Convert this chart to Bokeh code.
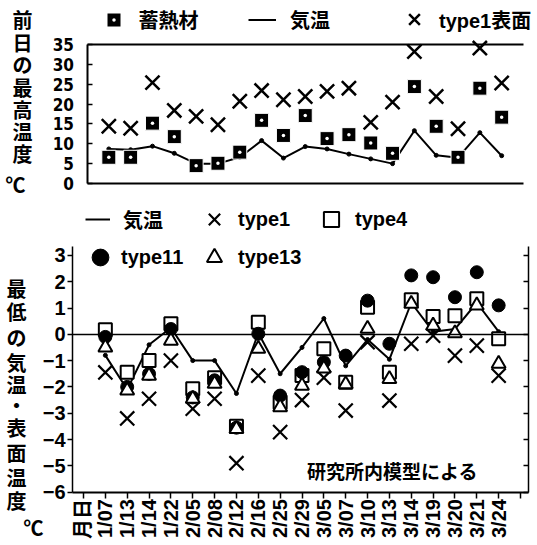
import math
from bokeh.plotting import figure
from bokeh.layouts import column
from bokeh.models import (ColumnDataSource, Range1d, LinearAxis, FixedTicker,
                          Legend, LegendItem, Label)
from bokeh.core.properties import value
from bokeh.embed import file_html
from bokeh.resources import INLINE

# ---------------------------------------------------------------- data
dates = ["1/07", "1/13", "1/14", "1/22", "2/05", "2/08", "2/12", "2/16", "2/25",
         "2/29", "3/05", "3/07", "3/10", "3/13", "3/14", "3/19", "3/20", "3/21", "3/24"]
axis_labels = ["月日"] + dates

# previous-day maximum (°C)
max_air = [8.7, 8.5, 9.4, 7.6, 5.0, 5.0, 6.6, 10.8, 6.4, 9.3,
           8.7, 7.4, 6.2, 5.0, 13.3, 7.1, 6.5, 12.8, 7.0]
max_storage = [6.6, 6.6, 15.2, 11.8, 4.5, 5.1, 7.9, 15.9, 12.1, 17.1,
               11.3, 12.3, 10.2, 7.6, 24.4, 14.4, 6.6, 24.0, 16.7]
max_type1_surface = [14.4, 13.9, 25.4, 18.4, 16.9, 14.8, 20.7, 23.4, 21.1, 21.9,
                     23.2, 24.0, 15.4, 20.5, 33.2, 21.9, 13.8, 34.1, 25.3]

# minimum air / surface temperature (°C)
min_air = [-0.8, -2.1, -0.4, 0.25, -1.0, -1.0, -2.25, 0.05, -1.5, -0.5,
           0.6, -1.2, -0.2, -0.95, 1.2, 0.1, 0.2, 1.2, 0.1]
min_type1 = [-1.45, -3.2, -2.45, -1.0, -2.83, -2.45, -4.9, -1.57, -3.72, -2.5,
             -1.65, -2.9, -0.3, -2.52, -0.36, -0.05, -0.81, -0.43, -1.57]
min_type4 = [0.17, -1.44, -1.0, 0.4, -2.07, -1.65, -3.5, 0.46, -2.58, -1.57,
             -0.55, -1.82, 1.03, -1.44, 1.31, 0.68, 0.71, 1.35, -0.17]
min_type11 = [-0.1, -2.0, -1.5, 0.2, -2.4, -1.75, -3.55, 0.02, -2.33, -1.44,
              -1.06, -0.81, 1.28, -0.36, 2.24, 2.17, 1.41, 2.36, 1.1]
min_type13 = [-0.5, -2.14, -1.57, -0.24, -2.45, -1.88, -3.6, -0.55, -2.77, -1.95,
              -1.3, -1.9, 0.21, -1.7, 1.16, 0.33, 0.04, 1.1, -1.12]

top_ticks = [0, 5, 10, 15, 20, 25, 30, 35]
bottom_ticks = [-6, -5, -4, -3, -2, -1, 0, 1, 2, 3]

title_top = ["前", "日", "の", "最", "高", "温", "度", "℃"]
title_bottom = ["最", "低", "の", "気", "温", "・", "表", "面", "温", "度", "℃"]
note_text = "研究所内模型による"

pos = list(range(1, len(dates) + 1))

# ---------------------------------------------------------------- fonts
JP = "'Noto Sans CJK JP'"
MIX = "'Liberation Sans', 'Noto Sans CJK JP'"
NARROW = "'Liberation Sans Narrow', 'DejaVu Sans Condensed', 'Liberation Sans'"

W = 537
TOP_H = 200
BOT_H = 545 - TOP_H


def axis_range(px_a, val_a, px_b, val_b, total_px):
    """Range spanning the whole figure, from two pixel/value anchors."""
    scale = (val_b - val_a) / (px_b - px_a)
    lo = val_a - px_a * scale
    hi = val_a + (total_px - px_a) * scale
    return Range1d(min(lo, hi), max(lo, hi))


def base_figure(height, x_range, y_range):
    f = figure(width=W, height=height, x_range=x_range, y_range=y_range,
               output_backend="svg", toolbar_location=None, min_border=0)
    f.grid.visible = False
    f.outline_line_color = None
    return f


def stacked_title(f, chars, xs, ys, size="20px"):
    """Upright characters stacked top to bottom (pixel positions)."""
    for ch, x, y in zip(chars, xs, ys):
        f.add_layout(Label(x=x, y=f.height - y, x_units="screen", y_units="screen",
                           text=ch, text_align="center", text_baseline="middle",
                           text_font=JP, text_font_size=size, text_font_style="bold",
                           text_color="black"))


def legend_entry(f, label, renderers, left, cy, box_w, box_h, text_x):
    f.add_layout(Legend(
        items=[LegendItem(label=value(label), renderers=renderers)],
        location=(left, f.height - (cy + box_h / 2)),
        orientation="horizontal", padding=0, margin=0, spacing=0,
        glyph_width=box_w, glyph_height=box_h, label_height=box_h,
        label_standoff=int(round(text_x - left - box_w)),
        label_text_font=MIX, label_text_font_size="20px",
        label_text_font_style="bold", label_text_color="black",
        border_line_color=None, background_fill_alpha=0))


def plain_axis(fixed, bounds, width):
    return LinearAxis(fixed_location=fixed, bounds=bounds,
                      ticker=FixedTicker(ticks=[]), axis_line_width=width,
                      major_tick_line_color=None, minor_tick_line_color=None)


# ================================================================ top chart
# index 0 -> x=86.5 px, index 20 -> x=523 px ; 35 -> y=44 px, 0 -> y=183 px
p1 = base_figure(TOP_H,
                 axis_range(86.5, 0, 523, 20, W),
                 axis_range(TOP_H - 183, 0, TOP_H - 44, 35, TOP_H))

p1.xaxis.fixed_location = 0
p1.xaxis.bounds = (0, 20)
p1.xaxis.ticker = FixedTicker(ticks=[])
p1.xaxis.axis_line_width = 2
p1.xaxis.major_tick_line_color = None
p1.xaxis.minor_tick_line_color = None

p1.yaxis.fixed_location = 0
p1.yaxis.bounds = (0, 35)
p1.yaxis.ticker = FixedTicker(ticks=top_ticks)
p1.yaxis.axis_line_width = 2
p1.yaxis.major_tick_in = 5
p1.yaxis.major_tick_out = 0
p1.yaxis.major_tick_line_width = 1.5
p1.yaxis.minor_tick_line_color = None
p1.yaxis.major_label_standoff = 13
p1.yaxis.major_label_text_font = NARROW
p1.yaxis.major_label_text_font_size = "17px"
p1.yaxis.major_label_text_font_style = "bold"
p1.yaxis.major_label_text_color = "black"

p1.add_layout(plain_axis(35, (0, 20), 2), "above")

src_top = ColumnDataSource(dict(x=pos, air=max_air, storage=max_storage,
                                t1=max_type1_surface))
r_air_t = p1.line("x", "air", source=src_top, line_color="black", line_width=2)
p1.scatter("x", "air", source=src_top, marker="circle", size=4, color="black")
r_store = p1.scatter("x", "storage", source=src_top, marker="square_dot", size=14,
                     fill_color="black", line_color="white", line_width=1)
r_t1s = p1.scatter("x", "t1", source=src_top, marker="x", size=20,
                   line_color="black", line_width=2.5)

legend_entry(p1, "蓄熱材", [r_store], 95.5, 19, 35, 35, 139)
legend_entry(p1, "気温", [r_air_t], 248, 19, 28, 35, 290)
legend_entry(p1, "type1表面", [r_t1s], 395, 19, 38, 38, 439)

stacked_title(p1, title_top, [22] * 7 + [15],
              [19, 41.5, 64, 87, 109, 131, 153, 184])

# ================================================================ bottom chart
# index 0 -> x=83 px, spacing 21.85 px ; 0 -> y=133.8 px, 26.3 px per degree
p2 = base_figure(BOT_H,
                 axis_range(83, 0, 83 + 21.85 * 20, 20, W),
                 axis_range(BOT_H - 133.8, 0, BOT_H - 133.8 + 26.3 * 3, 3, BOT_H))

X_LO, X_HI = -0.5, 20.37
Y_LO, Y_HI = -6, 3.33

p2.xaxis.fixed_location = Y_LO
p2.xaxis.bounds = (X_LO, X_HI)
p2.xaxis.ticker = FixedTicker(ticks=list(range(len(axis_labels))), minor_ticks=[20])
p2.xaxis.major_label_overrides = {i: t for i, t in enumerate(axis_labels)}
p2.xaxis.major_label_orientation = math.pi / 2
p2.xaxis.axis_line_width = 2
p2.xaxis.major_tick_in = 0
p2.xaxis.major_tick_out = 6
p2.xaxis.major_tick_line_width = 1.5
p2.xaxis.minor_tick_in = 0
p2.xaxis.minor_tick_out = 6
p2.xaxis.minor_tick_line_width = 1.5
p2.xaxis.minor_tick_line_color = "black"
p2.xaxis.major_label_standoff = 1
p2.xaxis.major_label_text_font = MIX
p2.xaxis.major_label_text_font_size = "20px"
p2.xaxis.major_label_text_font_style = "bold"
p2.xaxis.major_label_text_color = "black"

p2.yaxis.fixed_location = X_LO
p2.yaxis.bounds = (Y_LO, Y_HI)
p2.yaxis.ticker = FixedTicker(ticks=bottom_ticks)
p2.yaxis.major_label_overrides = {t: str(t).replace("-", "−") for t in bottom_ticks}
p2.yaxis.axis_line_width = 1.5
p2.yaxis.major_tick_in = 0
p2.yaxis.major_tick_out = 5
p2.yaxis.major_tick_line_width = 1.5
p2.yaxis.minor_tick_line_color = None
p2.yaxis.major_label_standoff = 2
p2.yaxis.major_label_text_font = "'Liberation Sans'"
p2.yaxis.major_label_text_font_size = "20px"
p2.yaxis.major_label_text_font_style = "bold"
p2.yaxis.major_label_text_color = "black"

right_axis = LinearAxis(fixed_location=X_HI, bounds=(Y_LO, Y_HI),
                        ticker=FixedTicker(ticks=[], minor_ticks=bottom_ticks),
                        axis_line_width=1.5, major_tick_line_color=None,
                        minor_tick_in=5, minor_tick_out=0, minor_tick_line_width=1.5,
                        minor_tick_line_color="black")
p2.add_layout(right_axis, "right")

# zero reference line
p2.add_layout(plain_axis(0, (X_LO, X_HI), 1.5), "below")

src_bot = ColumnDataSource(dict(x=pos, air=min_air, t1=min_type1, t4=min_type4,
                                t11=min_type11, t13=min_type13))
r_air_b = p2.line("x", "air", source=src_bot, line_color="black", line_width=2)
p2.scatter("x", "air", source=src_bot, marker="circle", size=4, color="black")
r_t1 = p2.scatter("x", "t1", source=src_bot, marker="x", size=20,
                  line_color="black", line_width=2.2)
r_t4 = p2.scatter("x", "t4", source=src_bot, marker="square", size=13,
                  fill_color="white", line_color="black", line_width=2)
r_t11 = p2.scatter("x", "t11", source=src_bot, marker="circle", size=13,
                   fill_color="black", line_color="black")
r_t13 = p2.scatter("x", "t13", source=src_bot, marker="triangle", size=14,
                   fill_color="white", line_color="black", line_width=2)

legend_entry(p2, "気温", [r_air_b], 85, 19, 25, 40, 123)
legend_entry(p2, "type1", [r_t1], 194, 19, 40, 40, 238)
legend_entry(p2, "type4", [r_t4], 312, 19, 38, 38, 355)
legend_entry(p2, "type11", [r_t11], 79, 57, 42, 42, 121)
legend_entry(p2, "type13", [r_t13], 195, 57, 38, 38, 238)

stacked_title(p2, title_bottom, [16] * 10 + [33],
              [88, 111, 137, 162, 184, 204, 227, 252, 277, 300, 327])

p2.add_layout(Label(x=14.14, y=-5.18, text=note_text,
                    text_align="center", text_baseline="middle",
                    text_font=JP, text_font_size="19px", text_font_style="bold",
                    text_color="black"))

layout = column(p1, p2, spacing=0)

with open("out.html", "w") as f:
    f.write(file_html(layout, INLINE))
